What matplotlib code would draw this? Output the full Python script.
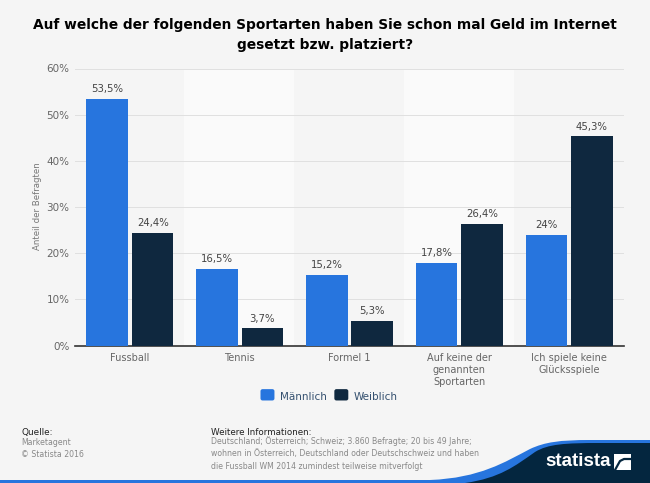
import matplotlib
matplotlib.use('Agg')
import matplotlib.pyplot as plt
from matplotlib.path import Path
from matplotlib.patches import PathPatch, Rectangle, FancyBboxPatch
from matplotlib.legend_handler import HandlerPatch

categories = ['Fussball', 'Tennis', 'Formel 1', 'Auf keine der\ngenannten\nSportarten', 'Ich spiele keine\nGlücksspiele']
maennlich = [53.5, 16.5, 15.2, 17.8, 24]
weiblich = [24.4, 3.7, 5.3, 26.4, 45.3]
labels_m = ['53,5%', '16,5%', '15,2%', '17,8%', '24%']
labels_w = ['24,4%', '3,7%', '5,3%', '26,4%', '45,3%']
yticks = [0, 10, 20, 30, 40, 50, 60]

W, H = 650, 483
BLUE = '#2775de'
NAVY = '#0f283f'
BG = '#f5f5f5'

plt.rcParams['font.family'] = 'DejaVu Sans'


class RoundHandle(HandlerPatch):
    # legend swatches with rounded corners
    def create_artists(self, legend, orig, xdescent, ydescent, width, height, fontsize, trans):
        p = FancyBboxPatch((1, 1), width - 2, height - 2, boxstyle='round,pad=1,rounding_size=1.5',
                           facecolor=orig.get_facecolor(), lw=0, transform=trans)
        return [p]


fig = plt.figure(figsize=(W / 100, H / 100), dpi=100, facecolor=BG)

# plot area in pixels
left, right, top, bottom = 75, 624, 68.5, 345.5
ax = fig.add_axes([left / W, 1 - bottom / H, (right - left) / W, (bottom - top) / H])
ax.set_facecolor(BG)
ax.set_xlim(-0.5, 4.5)
ax.set_ylim(0, 60)

# lighter bands behind every second group
for i in [1, 3]:
    ax.axvspan(i - 0.505, i + 0.495, color='#fafafa', lw=0, zorder=0)

ax.grid(axis='y', color='#e0e0e0', lw=0.7, zorder=1)
ax.set_axisbelow(True)

x = list(range(len(categories)))
offset = 0.207
width = 0.38
bars_m = ax.bar([i - offset for i in x], maennlich, width, color=BLUE, zorder=3, label='Männlich')
bars_w = ax.bar([i + offset for i in x], weiblich, width, color=NAVY, zorder=3, label='Weiblich')

for b, t in zip(list(bars_m) + list(bars_w), labels_m + labels_w):
    ax.annotate(t, (b.get_x() + b.get_width() / 2, b.get_height()), xytext=(0, 3.5),
                textcoords='offset points', ha='center', va='bottom',
                fontsize=7.3, color='#444444', zorder=4)

for s in ['top', 'left', 'right']:
    ax.spines[s].set_visible(False)
ax.spines['bottom'].set_color('#333333')
ax.spines['bottom'].set_linewidth(1.2)

ax.set_yticks(yticks)
ax.set_yticklabels([f'{v}%' for v in yticks], fontsize=7.5, color='#666666')
ax.set_xticks(x)
ax.set_xticklabels(categories, fontsize=7, color='#666666', linespacing=1.25)
ax.tick_params(axis='both', length=0)
ax.tick_params(axis='x', pad=5.5)
ax.tick_params(axis='y', pad=4)

fig.text(38 / W, 1 - 206 / H, 'Anteil der Befragten', rotation=90, fontsize=6.2,
         color='#777777', ha='center', va='center')

fig.text(325 / W, 1 - 35 / H, 'Auf welche der folgenden Sportarten haben Sie schon mal Geld im Internet\ngesetzt bzw. platziert?',
         fontsize=9.9, fontweight='bold', color='black', ha='center', va='center', linespacing=1.6)

fig.legend(handles=[bars_m[0], bars_w[0]], labels=['Männlich', 'Weiblich'], loc='center',
           bbox_to_anchor=(329 / W, 1 - 397 / H), ncol=2, frameon=False, fontsize=7.5,
           labelcolor='#34506f', handlelength=1.34, handleheight=1.3, columnspacing=0.75,
           handletextpad=0.5, handler_map={Rectangle: RoundHandle()})

# footer text
fig.text(21 / W, 1 - 432.5 / H, 'Quelle:', fontsize=6.4, color='#222222', va='center')
fig.text(21 / W, 1 - 448.5 / H, 'Marketagent\n© Statista 2016', fontsize=5.6, color='#888888', va='center',
         linespacing=1.55)
fig.text(211 / W, 1 - 432.5 / H, 'Weitere Informationen:', fontsize=6.3, color='#222222', va='center')
fig.text(211 / W, 1 - 453.5 / H,
         'Deutschland; Österreich; Schweiz; 3.860 Befragte; 20 bis 49 Jahre;\n'
         'wohnen in Österreich, Deutschland oder Deutschschweiz und haben\n'
         'die Fussball WM 2014 zumindest teilweise mitverfolgt',
         fontsize=5.6, color='#888888', va='center', linespacing=1.55)

# footer swoosh and logo drawn in pixel coordinates
bg = fig.add_axes([0, 0, 1, 1], zorder=5)
bg.set_xlim(0, W)
bg.set_ylim(H, 0)
bg.axis('off')
bg.patch.set_alpha(0)

bg.add_patch(Rectangle((0, 480), W, 3, color=BLUE, lw=0))
blue_curve = Path([(430, 480), (480, 478), (505, 462), (530, 449), (545, 442), (560, 440), (590, 440),
                   (650, 440), (650, 483), (430, 483)],
                  [Path.MOVETO, Path.CURVE4, Path.CURVE4, Path.CURVE4, Path.CURVE4, Path.CURVE4, Path.CURVE4,
                   Path.LINETO, Path.LINETO, Path.CLOSEPOLY])
bg.add_patch(PathPatch(blue_curve, color=BLUE, lw=0))
navy_curve = Path([(465, 483), (500, 478), (515, 466), (535, 452), (548, 444), (565, 443), (600, 443),
                   (650, 443), (650, 483), (465, 483)],
                  [Path.MOVETO, Path.CURVE4, Path.CURVE4, Path.CURVE4, Path.CURVE4, Path.CURVE4, Path.CURVE4,
                   Path.LINETO, Path.LINETO, Path.CLOSEPOLY])
bg.add_patch(PathPatch(navy_curve, color='#04263f', lw=0))
bg.text(578.5, 461.5, 'statista', color='white', fontsize=13.5, fontweight='bold', ha='center', va='center',
        family='Liberation Sans')
bg.add_patch(Rectangle((614, 454), 17, 16, color='white', lw=0))
bg.plot([615, 620, 624, 631], [470, 461, 459, 459], color='#04263f', lw=1.6)

fig.savefig('out.png', dpi=100, facecolor=BG)
